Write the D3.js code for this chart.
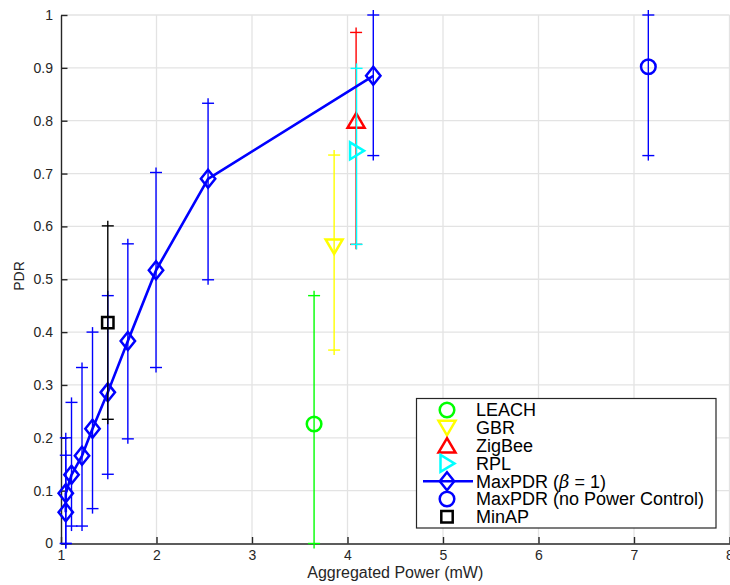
<!DOCTYPE html>
<html>
<head>
<meta charset="utf-8">
<script src="https://cdn.jsdelivr.net/npm/d3@7"></script>
<style>
  html, body { margin: 0; padding: 0; background: #fff; }
  svg { display: block; font-family: "Liberation Sans", Arial, Helvetica, sans-serif; }
</style>
</head>
<body>
<svg id="chart" width="730" height="585"></svg>
<script>
// Aggregated power (mW) vs. packet delivery ratio, one entry per scheme
const leachX = [3.65], leachY = [0.226], leachLo = [0.0], leachHi = [0.469];
const gbrX = [3.86], gbrY = [0.562], gbrLo = [0.366], gbrHi = [0.735];
const zigbeeX = [4.09], zigbeeY = [0.80], zigbeeLo = [0.566], zigbeeHi = [0.967];
const rplX = [4.095], rplY = [0.743], rplLo = [0.566], rplHi = [0.899];
const maxPdrX = [1.05, 1.05, 1.11, 1.22, 1.33, 1.49, 1.70, 1.995, 2.54, 4.27];
const maxPdrY = [0.059, 0.095, 0.130, 0.166, 0.217, 0.286, 0.383, 0.517, 0.690, 0.885];
const maxPdrLo = [0.0, 0.0, 0.033, 0.033, 0.066, 0.131, 0.198, 0.333, 0.499, 0.734];
const maxPdrHi = [0.167, 0.200, 0.267, 0.333, 0.400, 0.469, 0.567, 0.702, 0.833, 1.0];
const noPcX = [7.15], noPcY = [0.902], noPcLo = [0.734], noPcHi = [1.0];
const minApX = [1.49], minApY = [0.418], minApLo = [0.235], minApHi = [0.601];

const xTicks = [1, 2, 3, 4, 5, 6, 7, 8];
const yTicks = [0, 0.1, 0.2, 0.3, 0.4, 0.5, 0.6, 0.7, 0.8, 0.9, 1];
const legendNames = ["LEACH", "GBR", "ZigBee", "RPL", "MaxPDR (β = 1)", "MaxPDR (no Power Control)", "MinAP"];

const svg = d3.select("#chart");
const x = d3.scaleLinear().domain([1, 8]).range([61, 729.5]);
const y = d3.scaleLinear().domain([0, 1]).range([543.5, 15]);

const axisColor = "#262626";
const gridColor = "#e3e3e3";

// grid
const grid = svg.append("g");
grid.selectAll("line.gx").data(xTicks.slice(1)).join("line")
  .attr("x1", d => x(d)).attr("x2", d => x(d))
  .attr("y1", y(0)).attr("y2", y(1))
  .attr("stroke", gridColor).attr("stroke-width", 1.3);
grid.selectAll("line.gy").data(yTicks.slice(1)).join("line")
  .attr("y1", d => y(d)).attr("y2", d => y(d))
  .attr("x1", x(1)).attr("x2", x(8))
  .attr("stroke", gridColor).attr("stroke-width", 1.3);

// axes with inward ticks
const xAxis = svg.append("g").attr("transform", `translate(0,${y(0)})`)
  .call(d3.axisBottom(x).tickValues(xTicks).tickFormat(d3.format("d"))
    .tickSizeInner(-6.5).tickSizeOuter(0).tickPadding(6.5));
const yAxis = svg.append("g").attr("transform", `translate(${x(1)},0)`)
  .call(d3.axisLeft(y).tickValues(yTicks).tickFormat(d => d === 0 || d === 1 ? d3.format("d")(d) : d3.format(".1f")(d))
    .tickSizeInner(-6.5).tickSizeOuter(0).tickPadding(8));
[xAxis, yAxis].forEach(g => {
  g.select(".domain").attr("stroke", axisColor).attr("stroke-width", 1.4);
  g.selectAll(".tick line").attr("stroke", axisColor).attr("stroke-width", 1.4);
  g.selectAll(".tick text").attr("fill", axisColor).attr("font-size", 14)
    .attr("font-family", "Liberation Sans, Arial, sans-serif");
});

// axis titles
svg.append("text").attr("x", (x(1) + x(8)) / 2).attr("y", 578)
  .attr("text-anchor", "middle").attr("font-size", 16).attr("fill", axisColor)
  .text("Aggregated Power (mW)");
svg.append("text").attr("transform", "translate(24,276) rotate(-90)")
  .attr("text-anchor", "middle").attr("font-size", 14).attr("fill", axisColor)
  .text("PDR");

// marker shapes
function circlePath(r) {
  return `M${r},0A${r},${r} 0 1,1 ${-r},0A${r},${r} 0 1,1 ${r},0Z`;
}
function markerPath(type) {
  switch (type) {
    case "circle": return circlePath(7.3);
    case "down": return "M-8.5,-7L8.5,-7L0,7.5Z";
    case "up": return "M0,-7.5L8.5,7L-8.5,7Z";
    case "right": return "M-6.5,-8.5L7.5,0L-6.5,8.5Z";
    case "diamond": return "M0,-9L7.2,0L0,9L-7.2,0Z";
    case "square": return "M-5.7,-5.7L5.7,-5.7L5.7,5.7L-5.7,5.7Z";
  }
}

const plot = svg.append("g");
const capW = 6;    // half width of the end cross
const capExt = 5;  // vertical overshoot past each end cross

function drawSeries(xs, ys, lo, hi, color, marker, withLine) {
  const g = plot.append("g");
  const pts = xs.map((d, i) => ({ x: d, y: ys[i], lo: lo[i], hi: hi[i] }));
  // error bars ending in small crosses
  pts.forEach(p => {
    g.append("line").attr("x1", x(p.x)).attr("x2", x(p.x))
      .attr("y1", y(p.lo) + capExt).attr("y2", y(p.hi) - capExt)
      .attr("stroke", color).attr("stroke-width", 1.4);
    [p.lo, p.hi].forEach(v => {
      g.append("line").attr("x1", x(p.x) - capW).attr("x2", x(p.x) + capW)
        .attr("y1", y(v)).attr("y2", y(v))
        .attr("stroke", color).attr("stroke-width", 1.4);
    });
  });
  if (withLine) {
    g.append("path").datum(pts)
      .attr("d", d3.line().x(p => x(p.x)).y(p => y(p.y)))
      .attr("fill", "none").attr("stroke", color).attr("stroke-width", 2.6)
      .attr("stroke-linejoin", "round");
  }
  g.selectAll("path.m").data(pts).join("path").attr("class", "m")
    .attr("transform", p => `translate(${x(p.x)},${y(p.y)})`)
    .attr("d", markerPath(marker))
    .attr("fill", "none").attr("stroke", color).attr("stroke-width", 2.5)
    .attr("stroke-linejoin", "miter");
}

const series = [
  { xs: leachX, ys: leachY, lo: leachLo, hi: leachHi, color: "#00ff00", marker: "circle", line: false },
  { xs: gbrX, ys: gbrY, lo: gbrLo, hi: gbrHi, color: "#ffff00", marker: "down", line: false },
  { xs: zigbeeX, ys: zigbeeY, lo: zigbeeLo, hi: zigbeeHi, color: "#ff0000", marker: "up", line: false },
  { xs: rplX, ys: rplY, lo: rplLo, hi: rplHi, color: "#00ffff", marker: "right", line: false },
  { xs: maxPdrX, ys: maxPdrY, lo: maxPdrLo, hi: maxPdrHi, color: "#0000ff", marker: "diamond", line: true },
  { xs: noPcX, ys: noPcY, lo: noPcLo, hi: noPcHi, color: "#0000ff", marker: "circle", line: false },
  { xs: minApX, ys: minApY, lo: minApLo, hi: minApHi, color: "#000000", marker: "square", line: false }
];
series.forEach(s => drawSeries(s.xs, s.ys, s.lo, s.hi, s.color, s.marker, s.line));

// legend
const lg = svg.append("g");
lg.append("rect").attr("x", 416.5).attr("y", 398.5).attr("width", 299.5).attr("height", 129.5)
  .attr("fill", "#fff").attr("stroke", axisColor).attr("stroke-width", 1.2);
const rowY0 = 410, rowStep = 17.8, mX = 447, tX = 476;
series.forEach((s, i) => {
  const cy = rowY0 + i * rowStep;
  if (s.line) {
    lg.append("line").attr("x1", 423).attr("x2", 473).attr("y1", cy).attr("y2", cy)
      .attr("stroke", s.color).attr("stroke-width", 2.6);
  }
  lg.append("path").attr("transform", `translate(${mX},${cy})`)
    .attr("d", markerPath(s.marker)).attr("fill", "none")
    .attr("stroke", s.color).attr("stroke-width", 2.5);
  const t = lg.append("text").attr("x", tX).attr("y", cy).attr("dy", "0.36em")
    .attr("font-size", 18).attr("fill", "#000");
  if (legendNames[i].includes("β")) {
    const parts = legendNames[i].split("β");
    t.append("tspan").text(parts[0]);
    t.append("tspan").attr("font-style", "italic").attr("font-family", "DejaVu Serif, serif").text("β");
    t.append("tspan").text(parts[1]);
  } else {
    t.text(legendNames[i]);
  }
});
</script>
</body>
</html>
